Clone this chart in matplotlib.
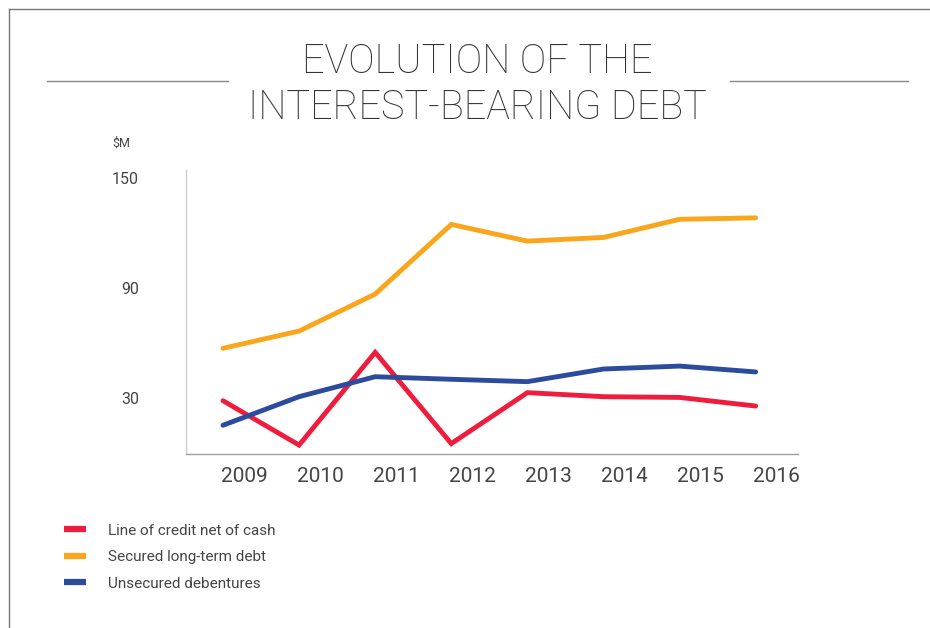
import matplotlib.pyplot as plt
from matplotlib.lines import Line2D
from matplotlib.transforms import ScaledTranslation

# Data
years = ['2009', '2010', '2011', '2012', '2013', '2014', '2015', '2016']
credit_net_of_cash = [28.5, 4.3, 54.9, 5.1, 32.9, 30.7, 30.3, 25.6]
secured_long_term = [57.1, 66.5, 86.7, 124.7, 115.6, 117.6, 127.5, 128.3]
unsecured_debentures = [15.1, 30.7, 41.6, 40.2, 38.9, 45.8, 47.4, 44.2]
y_ticks = [30, 90, 150]

series_names = ['Line of credit net of cash', 'Secured long-term debt', 'Unsecured debentures']
colors = ['#EE1D3E', '#FAA61C', '#2C4B9C']

plt.rcParams['font.family'] = ['Roboto', 'DejaVu Sans']
text_color = '#444444'

fig = plt.figure(figsize=(9.3, 6.28), dpi=100)
ax = fig.add_axes([0.2, 0.277, 0.6577, 0.4523])

x = range(len(years))
for vals, c in zip([credit_net_of_cash, secured_long_term, unsecured_debentures], colors):
    ax.plot(x, vals, color=c, lw=3.5, solid_capstyle='round', solid_joinstyle='miter')

ax.set_xlim(-0.486, 7.552)
ax.set_ylim(-0.6, 154.4)
ax.set_xticks(list(x))
ax.set_xticklabels(years, fontsize=15, color=text_color)
ax.set_yticks(y_ticks)
ax.set_yticklabels([str(v) for v in y_ticks], fontsize=11.5, color=text_color)
ax.tick_params(axis='x', length=0, pad=9)
ax.tick_params(axis='y', length=0, pad=34)

# shift year labels a bit to the right, like the original
shift = ScaledTranslation(21 / 100, 0, fig.dpi_scale_trans)
for lab in ax.get_xticklabels():
    lab.set_transform(lab.get_transform() + shift)

for side in ['top', 'right']:
    ax.spines[side].set_visible(False)
ax.spines['left'].set_color('#d0d0d0')
ax.spines['bottom'].set_color('#a0a0a0')
ax.spines['left'].set_linewidth(1)
ax.spines['bottom'].set_linewidth(1)

fig.text(112 / 930, 1 - 143 / 628, '$M', fontsize=9, color=text_color, ha='left', va='center')

# title
fig.text(0.513, 1 - 62 / 628, 'EVOLUTION OF THE', fontsize=28.5, fontweight='light',
         color='#333333', ha='center', va='center')
fig.text(0.513, 1 - 108 / 628, 'INTEREST-BEARING DEBT', fontsize=28.5, fontweight='light',
         color='#333333', ha='center', va='center')

# decorative lines and frame
fig.add_artist(Line2D([47 / 930, 228 / 930], [1 - 81 / 628] * 2, color='#888888', lw=1))
fig.add_artist(Line2D([730 / 930, 908 / 930], [1 - 81 / 628] * 2, color='#888888', lw=1))
fig.add_artist(Line2D([9 / 930, 1.0], [1 - 9 / 628] * 2, color='#777777', lw=1))
fig.add_artist(Line2D([9 / 930, 9 / 930], [1 - 9 / 628, 0.0], color='#777777', lw=1))

# legend
handles = [Line2D([], [], color=c, lw=4.5, solid_capstyle='butt') for c in colors]
fig.legend(handles, series_names, loc='upper left', bbox_to_anchor=(50 / 930, 1 - 510 / 628),
           frameon=False, fontsize=11, handlelength=1.45, handletextpad=1.45,
           labelspacing=0.82, labelcolor=text_color)

fig.savefig('out.png', dpi=100)
